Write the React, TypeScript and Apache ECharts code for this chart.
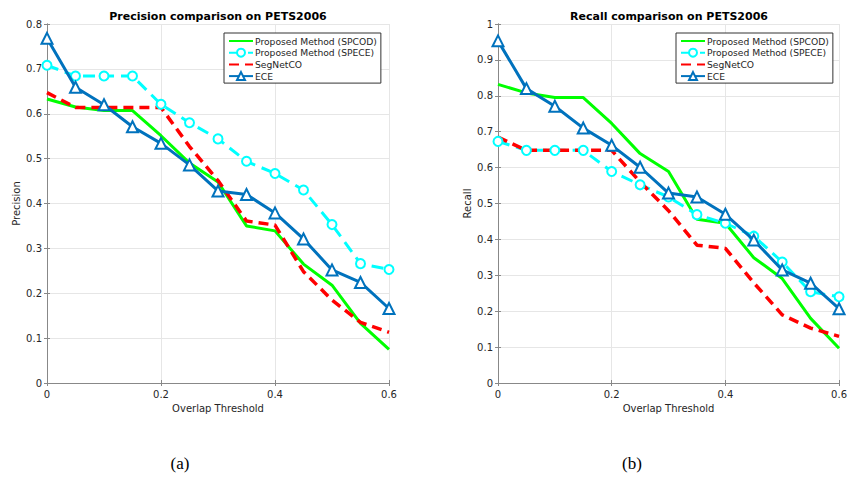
import React, { useEffect, useRef } from "react";
import * as echarts from "echarts";

const thresholds = [0, 0.05, 0.1, 0.15, 0.2, 0.25, 0.3, 0.35, 0.4, 0.45, 0.5, 0.55, 0.6];
const seriesNames = ["Proposed Method (SPCOD)", "Proposed Method (SPECE)", "SegNetCO", "ECE"];

const precisionSPCOD = [0.633, 0.615, 0.607, 0.607, 0.551, 0.49, 0.448, 0.35, 0.339, 0.265, 0.218, 0.133, 0.075];
const precisionSPECE = [0.708, 0.684, 0.684, 0.684, 0.621, 0.58, 0.544, 0.494, 0.467, 0.43, 0.353, 0.266, 0.253];
const precisionSegNetCO = [0.647, 0.614, 0.614, 0.614, 0.614, 0.527, 0.451, 0.361, 0.352, 0.248, 0.185, 0.135, 0.113];
const precisionECE = [0.768, 0.659, 0.62, 0.571, 0.534, 0.486, 0.428, 0.42, 0.379, 0.321, 0.252, 0.224, 0.166];

const recallSPCOD = [0.832, 0.808, 0.795, 0.795, 0.723, 0.639, 0.589, 0.456, 0.445, 0.349, 0.291, 0.18, 0.097];
const recallSPECE = [0.673, 0.648, 0.648, 0.648, 0.589, 0.552, 0.518, 0.469, 0.445, 0.409, 0.337, 0.254, 0.24];
const recallSegNetCO = [0.685, 0.648, 0.648, 0.648, 0.648, 0.56, 0.48, 0.384, 0.375, 0.279, 0.19, 0.153, 0.13];
const recallECE = [0.953, 0.82, 0.771, 0.71, 0.662, 0.601, 0.529, 0.518, 0.47, 0.398, 0.315, 0.278, 0.207];

const xTicks = [0, 0.2, 0.4, 0.6];
const titles = ["Precision comparison on PETS2006", "Recall comparison on PETS2006"];
const yNames = ["Precision", "Recall"];
const xName = "Overlap Threshold";
const captions = ["(a)", "(b)"];

const FONT = "DejaVu Sans";
const TXT = "#262626";

function pairs(vals: number[]) {
  return thresholds.map((x, i) => [x, vals[i]]);
}

function fmt(v: number) {
  if (v === 0) return "0";
  if (Math.abs(v - 1) < 1e-9) return "1";
  return String(Math.round(v * 10) / 10);
}

export default function App() {
  const ref = useRef<HTMLDivElement>(null);
  useEffect(() => {
    document.body.style.margin = "0";
    const chart = echarts.init(ref.current!, null, { renderer: "svg" });
    const grids = [
      { left: 47, top: 24, width: 342, height: 359 },
      { left: 498, top: 24, width: 342, height: 359 },
    ];
    const maxY = [0.8, 1];
    const xAxes: any[] = [];
    const yAxes: any[] = [];
    [0, 1].forEach((g) => {
      xAxes.push({
        type: "value", gridIndex: g, min: 0, max: 0.6, interval: 0.2,
        name: xName, nameLocation: "middle", nameGap: 19,
        nameTextStyle: { fontFamily: FONT, fontSize: 10, color: TXT },
        axisLine: { lineStyle: { color: "#888", width: 1 } },
        axisTick: { inside: true, length: 3, lineStyle: { color: "#888" } },
        axisLabel: { fontFamily: FONT, fontSize: 10, color: TXT, margin: 6, formatter: (v: number) => (xTicks.some((t) => Math.abs(t - v) < 1e-9) ? fmt(v) : "") },
        splitLine: { show: true, lineStyle: { color: "#e6e6e6", width: 1 } },
      });
      yAxes.push({
        type: "value", gridIndex: g, min: 0, max: maxY[g], interval: 0.1,
        name: yNames[g], nameLocation: "middle", nameGap: 26,
        nameTextStyle: { fontFamily: FONT, fontSize: 10, color: TXT },
        axisLine: { show: true, lineStyle: { color: "#888", width: 1 } },
        axisTick: { show: true, inside: true, length: 3, lineStyle: { color: "#888" } },
        axisLabel: { fontFamily: FONT, fontSize: 10, color: TXT, margin: 5, formatter: fmt },
        splitLine: { show: true, lineStyle: { color: "#e6e6e6", width: 1 } },
      });
    });
    [0, 1].forEach((g) => {
      xAxes.push({
        type: "value", gridIndex: g, min: 0, max: 0.6, interval: 0.2, position: "top",
        axisLine: { show: true, lineStyle: { color: "#888", width: 1 } },
        axisTick: { show: true, inside: true, length: 3, lineStyle: { color: "#888" } },
        axisLabel: { show: false }, splitLine: { show: false },
      });
      yAxes.push({
        type: "value", gridIndex: g, min: 0, max: maxY[g], interval: 0.1, position: "right",
        axisLine: { show: true, lineStyle: { color: "#888", width: 1 } },
        axisTick: { show: true, inside: true, length: 3, lineStyle: { color: "#888" } },
        axisLabel: { show: false }, splitLine: { show: false },
      });
    });

    const dataSets = [
      [precisionSPCOD, precisionSPECE, precisionSegNetCO, precisionECE],
      [recallSPCOD, recallSPECE, recallSegNetCO, recallECE],
    ];
    const styles = [
      { color: "#00ff00", type: "solid", width: 3, symbol: "none", symbolSize: 0 },
      { color: "#00ffff", type: [12, 7], width: 3, symbol: "emptyCircle", symbolSize: 9 },
      { color: "#ff0000", type: [10, 6], width: 3.5, symbol: "none", symbolSize: 0 },
      { color: "#0072bd", type: "solid", width: 3, symbol: "emptyTriangle", symbolSize: 11 },
    ];
    const series: any[] = [];
    [0, 1].forEach((g) => {
      dataSets[g].forEach((vals, k) => {
        const s = styles[k];
        series.push({
          type: "line",
          name: seriesNames[k],
          xAxisIndex: g,
          yAxisIndex: g,
          data: pairs(vals),
          symbol: s.symbol,
          symbolSize: s.symbolSize,
          showSymbol: s.symbol !== "none",
          lineStyle: { color: s.color, width: s.width, type: s.type },
          itemStyle: { color: s.color, borderColor: s.color, borderWidth: 2.5 },
          z: 2 + (k === 3 ? 1 : 0),
        });
      });
    });

    const legendData = seriesNames.map((n, k) =>
      styles[k].symbol === "none" ? { name: n, itemStyle: { opacity: 0 } } : { name: n }
    );

    const legendBase = {
      orient: "vertical",
      top: 33,
      backgroundColor: "#fff",
      borderColor: "#333",
      borderWidth: 1,
      padding: [3, 4, 2, 4],
      itemGap: 1.7,
      itemWidth: 24,
      itemHeight: 10,
      textStyle: { fontFamily: FONT, fontSize: 9.2, color: TXT, padding: [0, 0, 0, -3] },
      data: legendData,
    };

    chart.setOption({
      animation: false,
      backgroundColor: "#fff",
      grid: grids.map((g) => ({ ...g, show: false })),
      xAxis: xAxes,
      yAxis: yAxes,
      legend: [
        { ...legendBase, left: 224 },
        { ...legendBase, left: 676 },
      ],
      series,
      graphic: [
        { type: "text", x: 218, y: 16, style: { text: titles[0], font: `bold 11px '${FONT}'`, fill: "#000", align: "center", verticalAlign: "middle" } },
        { type: "text", x: 669, y: 16, style: { text: titles[1], font: `bold 11px '${FONT}'`, fill: "#000", align: "center", verticalAlign: "middle" } },
        { type: "text", x: 180, y: 463, style: { text: captions[0], font: `17px 'Liberation Serif'`, fill: "#000", align: "center", verticalAlign: "middle" } },
        { type: "text", x: 632, y: 463, style: { text: captions[1], font: `17px 'Liberation Serif'`, fill: "#000", align: "center", verticalAlign: "middle" } },
      ],
    });
    return () => chart.dispose();
  }, []);
  return <div ref={ref} style={{ width: 850, height: 477 }} />;
}
